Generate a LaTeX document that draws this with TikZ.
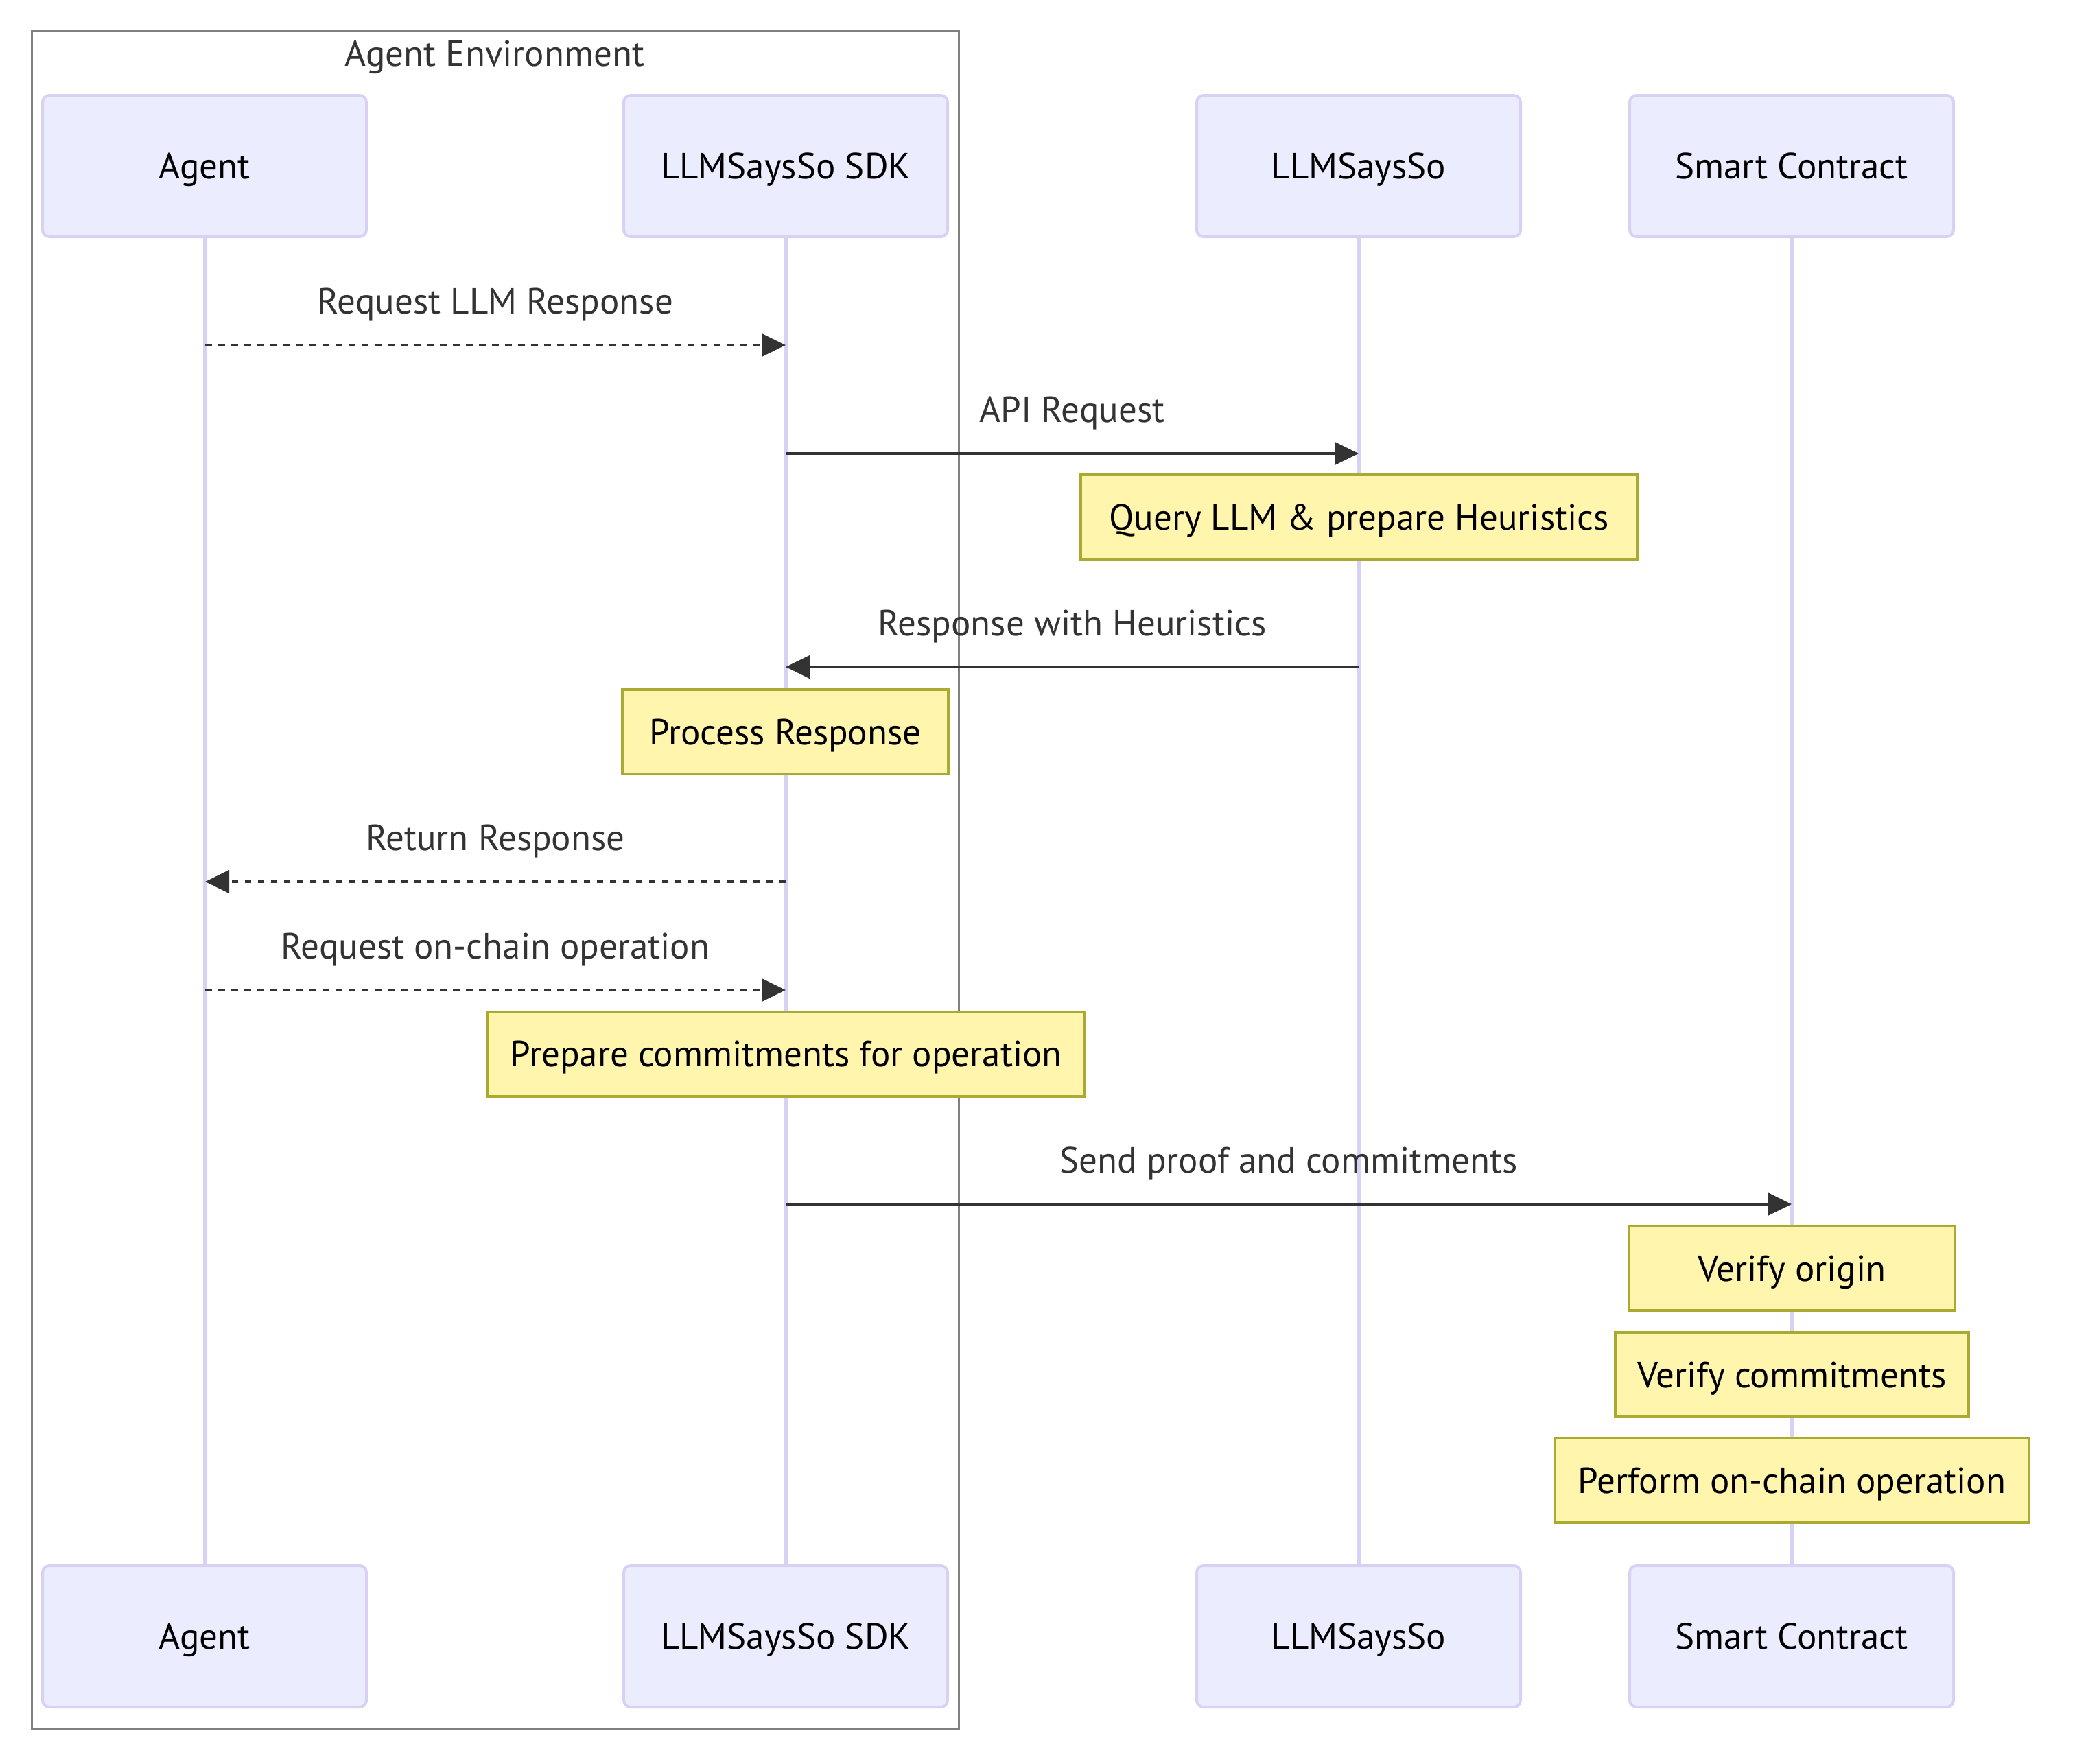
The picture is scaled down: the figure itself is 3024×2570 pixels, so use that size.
\documentclass[tikz,border=0pt]{standalone}
\usepackage{fontspec}
\setmainfont{PT Sans}
\usetikzlibrary{arrows.meta}
\definecolor{actfill}{HTML}{ECECFF}
\definecolor{actline}{HTML}{D9D1F3}
\definecolor{notefill}{HTML}{FFF5AD}
\definecolor{noteline}{HTML}{AAAA33}
\definecolor{msgcol}{HTML}{333333}
\definecolor{grpcol}{HTML}{808080}
\begin{document}
\begin{tikzpicture}[x=1pt,y=-1pt,
  font=\fontsize{53}{64}\selectfont,
  captext/.style={text height=37pt, text depth=0pt},
  actor/.style={draw=actline, fill=actfill, line width=4pt, rounded corners=10pt,
    minimum width=472pt, minimum height=206pt, inner sep=0pt, text=black, captext},
  lifeline/.style={draw=actline, line width=6pt},
  notebox/.style={draw=noteline, fill=notefill, line width=4pt,
    minimum height=123pt, inner sep=0pt, text=black, captext},
  msgline/.style={draw=msgcol, line width=4.5pt, -{Triangle[length=35pt,width=33pt]}},
  dotmsg/.style={msgline, dash pattern=on 9.5pt off 9.5pt},
  lbl/.style={text=msgcol, inner sep=0pt, yshift=64pt, captext}
]
\useasboundingbox (0,0) rectangle (3024,2570);

% group
\node[draw=grpcol, line width=3pt, minimum width=1351pt, minimum height=2475pt, inner sep=0pt] (grp) at (721.5,1282.5) {};
\node[text=msgcol, captext, inner sep=0pt] (grptitle) at (721,78) {Agent Environment};

% lifeline coordinates
\coordinate (agT) at (299,345);  \coordinate (agB) at (299,2282);
\coordinate (sdT) at (1145,345); \coordinate (sdB) at (1145,2282);
\coordinate (llT) at (1980,345); \coordinate (llB) at (1980,2282);
\coordinate (scT) at (2611,345); \coordinate (scB) at (2611,2282);
\draw[lifeline] (agT) -- (agB);
\draw[lifeline] (sdT) -- (sdB);
\draw[lifeline] (llT) -- (llB);
\draw[lifeline] (scT) -- (scB);

% actors
\node[actor] (ag1) at (298,242) {Agent};
\node[actor] (sd1) at (1145,242) {LLMSaysSo SDK};
\node[actor] (ll1) at (1980,242) {LLMSaysSo};
\node[actor] (sc1) at (2611,242) {Smart Contract};
\node[actor] (ag2) at (298,2385) {Agent};
\node[actor] (sd2) at (1145,2385) {LLMSaysSo SDK};
\node[actor] (ll2) at (1980,2385) {LLMSaysSo};
\node[actor] (sc2) at (2611,2385) {Smart Contract};

% message endpoints
\coordinate (m1a) at (299,503);  \coordinate (m1b) at (1145,503);
\coordinate (m2a) at (1145,661); \coordinate (m2b) at (1980,661);
\coordinate (m3a) at (1980,972); \coordinate (m3b) at (1145,972);
\coordinate (m4a) at (1145,1285);\coordinate (m4b) at (299,1285);
\coordinate (m5a) at (299,1443); \coordinate (m5b) at (1145,1443);
\coordinate (m6a) at (1145,1755);\coordinate (m6b) at (2611,1755);

\draw[dotmsg] (m1a) -- node[lbl] (l1) {Request LLM Response} (m1b);
\draw[msgline] (m2a) -- node[lbl] (l2) {API Request} (m2b);
\draw[msgline] (m3a) -- node[lbl] (l3) {Response with Heuristics} (m3b);
\draw[dotmsg] (m4a) -- node[lbl] (l4) {Return Response} (m4b);
\draw[dotmsg] (m5a) -- node[lbl] (l5) {Request on-chain operation} (m5b);
\draw[msgline] (m6a) -- node[lbl] (l6) {Send proof and commitments} (m6b);

% notes
\node[notebox, minimum width=811pt] (n1) at (1980.5,753.5) {Query LLM \& prepare Heuristics};
\node[notebox, minimum width=475pt] (n2) at (1144.5,1066.5) {Process Response};
\node[notebox, minimum width=871pt] (n3) at (1145.5,1536) {Prepare commitments for operation};
\node[notebox, minimum width=475pt] (n4) at (2611.5,1848.5) {Verify origin};
\node[notebox, minimum width=515pt] (n5) at (2611.5,2003.5) {Verify commitments};
\node[notebox, minimum width=691pt] (n6) at (2611.5,2157.5) {Perform on-chain operation};
\end{tikzpicture}
\end{document}
